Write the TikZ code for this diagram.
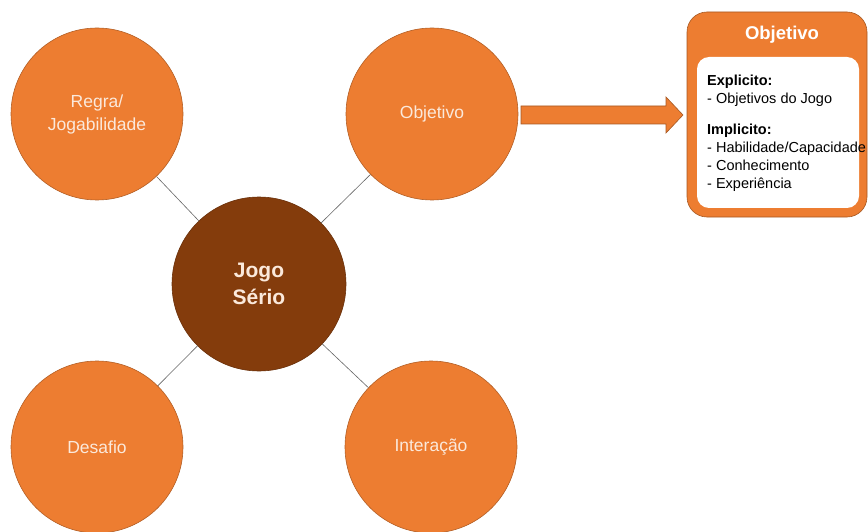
\documentclass[tikz,border=0pt]{standalone}
\usepackage{fontspec}
\setmainfont{Liberation Sans}
\usetikzlibrary{positioning}
\definecolor{laranja}{HTML}{ED7D31}
\definecolor{marrom}{HTML}{843C0C}
\definecolor{creme}{HTML}{FBE9DB}
\tikzset{
  ring/.style={circle,draw=laranja!75!black,line width=0.6pt,fill=laranja,
    minimum size=172pt,inner sep=0pt,align=center,text=creme,
    font=\fontsize{17.5}{23}\selectfont},
  hub/.style={ring,fill=marrom,draw=marrom!80!black,minimum size=174pt,
    font=\bfseries\fontsize{21}{27}\selectfont},
  link/.style={draw=gray!80!black,line width=0.6pt}
}
\begin{document}
\begin{tikzpicture}[x=1pt,y=-1pt]
\useasboundingbox (0,0) rectangle (868,532);
\node[hub]  (jogo)     at (259,284) {Jogo\\S\'erio};
\node[ring] (regra)    at (97,114)  {Regra/\\Jogabilidade};
\node[ring] (objetivo) at (432,114) {Objetivo};
\node[ring] (desafio)  at (97,447)  {Desafio};
\node[ring] (interacao) at (431,447) {Intera\c{c}\~ao};
\draw[link] (jogo) -- (regra);
\draw[link] (jogo) -- (objetivo);
\draw[link] (jogo) -- (desafio);
\draw[link] (jogo) -- (interacao);
% seta de bloco
\draw[fill=laranja,draw=laranja!70!black,line width=0.6pt]
  (521,106) -- (666,106) -- (666,97) -- (683,115) -- (666,133) -- (666,124) -- (521,124) -- cycle;
% caixa do objetivo
\draw[fill=laranja,draw=laranja!70!black,line width=0.6pt,rounded corners=20pt]
  (687,12) rectangle (867,217);
\fill[white,rounded corners=12pt] (697,57) rectangle (859,208);
\node[text=white,font=\bfseries\fontsize{18.5}{22}\selectfont] (titulo) at (782,35) {Objetivo};
\node[anchor=north west,align=left,inner sep=0pt,font=\fontsize{14.5}{18}\selectfont]
  (detalhe) at (707,75) {\textbf{Explicito:}\\- Objetivos do Jogo\\[13pt]\textbf{Implicito:}\\- Habilidade/Capacidade\\- Conhecimento\\- Experi\^encia};
\end{tikzpicture}
\end{document}
